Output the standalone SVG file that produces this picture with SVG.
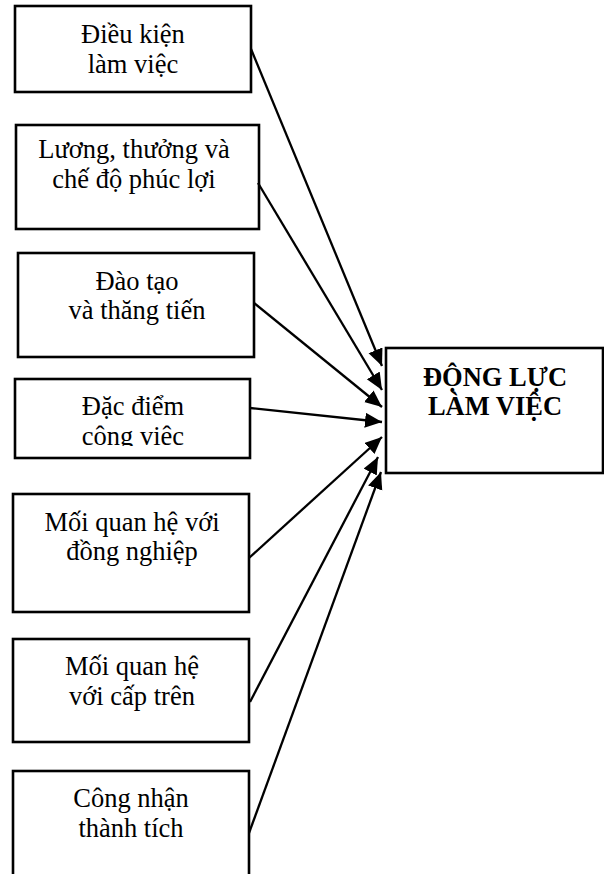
<svg xmlns="http://www.w3.org/2000/svg" width="604" height="874" viewBox="0 0 604 874">
<style>
.box{fill:#fff;stroke:#000;stroke-width:2.6}
.t{font-family:"Liberation Serif","Times New Roman",serif;font-size:26.5px;fill:#000;text-anchor:middle}
.b{font-weight:bold}
.c{stroke:#000;stroke-width:2.3;fill:none;marker-end:url(#ah)}
</style>
<defs>
<marker id="ah" markerUnits="userSpaceOnUse" markerWidth="18" markerHeight="16" refX="17" refY="7.5" orient="auto">
<path d="M0,0 L17,7.5 L0,15 Z" fill="#000"/>
</marker>
<clipPath id="clip4"><rect x="0" y="380" width="300" height="66"/></clipPath>
</defs>
<rect width="604" height="874" fill="#fff"/>
<g id="n1">
<rect class="box" x="15" y="6" width="236" height="86"/>
<text class="t" x="133" y="43">Điều kiện</text>
<text class="t" x="133" y="73">làm việc</text>
</g>
<g id="n2">
<rect class="box" x="16" y="125" width="243" height="104"/>
<text class="t" x="134" y="158">Lương, thưởng và</text>
<text class="t" x="134" y="188">chế độ phúc lợi</text>
</g>
<g id="n3">
<rect class="box" x="18" y="253" width="236" height="104"/>
<text class="t" x="137" y="290">Đào tạo</text>
<text class="t" x="137" y="319">và thăng tiến</text>
</g>
<g id="n4">
<rect class="box" x="15" y="379" width="235" height="79"/>
<text class="t" x="133" y="415">Đặc điểm</text>
<text class="t" x="133" y="445" clip-path="url(#clip4)">công việc</text>
</g>
<g id="n5">
<rect class="box" x="13" y="494" width="236" height="118"/>
<text class="t" x="132" y="531">Mối quan hệ với</text>
<text class="t" x="132" y="560">đồng nghiệp</text>
</g>
<g id="n6">
<rect class="box" x="13" y="639" width="236" height="103"/>
<text class="t" x="132" y="675">Mối quan hệ</text>
<text class="t" x="132" y="705">với cấp trên</text>
</g>
<g id="n7">
<rect class="box" x="13" y="771" width="236" height="112"/>
<text class="t" x="131" y="807">Công nhận</text>
<text class="t" x="131" y="837">thành tích</text>
</g>
<g id="target">
<rect class="box" x="386" y="348" width="217" height="125"/>
<text class="t b" x="495" y="386">ĐỘNG LỰC</text>
<text class="t b" x="495" y="415">LÀM VIỆC</text>
</g>
<g id="connectors">
<line class="c" x1="251" y1="49" x2="382" y2="366"/>
<line class="c" x1="258" y1="183" x2="382" y2="390"/>
<line class="c" x1="254" y1="303" x2="382" y2="407"/>
<line class="c" x1="250" y1="408" x2="382" y2="422"/>
<line class="c" x1="249" y1="558" x2="382" y2="437"/>
<line class="c" x1="250" y1="702" x2="378" y2="457"/>
<line class="c" x1="249" y1="833" x2="381" y2="472"/>
</g>
</svg>
